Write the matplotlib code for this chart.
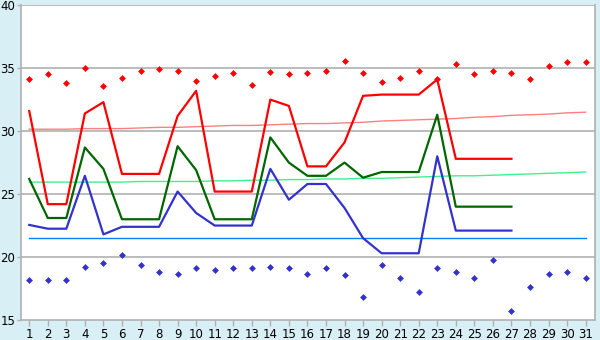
import matplotlib
matplotlib.use("Agg")
import matplotlib.pyplot as plt

days = list(range(1, 32))
line_days = list(range(1, 28))

max_points = [34.1, 34.5, 33.8, 35.0, 33.6, 34.2, 34.8, 34.9, 34.8, 34.0,
              34.4, 34.6, 33.7, 34.7, 34.5, 34.6, 34.8, 35.6, 34.6, 33.9,
              34.2, 34.8, 34.1, 35.3, 34.5, 34.8, 34.6, 34.1, 35.2, 35.5, 35.5]
min_points = [18.2, 18.15, 18.15, 19.2, 19.5, 20.2, 19.35, 18.8, 18.65, 19.1,
              18.95, 19.1, 19.1, 19.2, 19.1, 18.65, 19.1, 18.55, 16.8, 19.4,
              18.3, 17.2, 19.1, 18.8, 18.3, 19.75, 15.7, 17.6, 18.65, 18.8, 18.3]

red_line = [31.6, 24.2, 24.2, 31.4, 32.3, 26.6, 26.6, 26.6, 31.2, 33.2,
            25.2, 25.2, 25.2, 32.5, 32.0, 27.2, 27.2, 29.1, 32.8, 32.9,
            32.9, 32.9, 34.1, 27.8, 27.8, 27.8, 27.8]
green_line = [26.2, 23.1, 23.1, 28.7, 27.0, 23.0, 23.0, 23.0, 28.8, 26.9,
              23.0, 23.0, 23.0, 29.5, 27.5, 26.45, 26.45, 27.5, 26.3, 26.75,
              26.75, 26.75, 31.3, 24.0, 24.0, 24.0, 24.0]
blue_line = [22.55, 22.25, 22.25, 26.45, 21.8, 22.4, 22.4, 22.4, 25.2, 23.5,
             22.5, 22.5, 22.5, 27.0, 24.55, 25.8, 25.8, 23.9, 21.5, 20.3,
             20.3, 20.3, 28.0, 22.1, 22.1, 22.1, 22.1]

normal_max = [30.15, 30.15, 30.15, 30.2, 30.2, 30.2, 30.25, 30.3, 30.3, 30.35,
              30.4, 30.45, 30.45, 30.5, 30.55, 30.6, 30.6, 30.65, 30.7, 30.8,
              30.85, 30.9, 30.95, 31.0, 31.1, 31.15, 31.25, 31.3, 31.35, 31.45, 31.5]
normal_mean = [25.95, 25.95, 25.95, 25.95, 25.95, 25.95, 26.0, 26.0, 26.0, 26.0,
               26.05, 26.05, 26.1, 26.1, 26.15, 26.15, 26.2, 26.2, 26.25, 26.25,
               26.3, 26.35, 26.4, 26.45, 26.45, 26.5, 26.55, 26.6, 26.65, 26.7, 26.75]
normal_min = [21.5] * 31

y_ticks = [15, 20, 25, 30, 35, 40]

bg = "#d9eff6"
grid_col = "#b0b0b0"

fig = plt.figure(figsize=(6, 3.4), dpi=100, facecolor=bg)
ax = fig.add_axes([0.0345, 0.0588, 0.957, 0.926])
ax.set_facecolor("white")

for y in y_ticks[1:]:
    ax.axhline(y, color=grid_col, lw=1.2, zorder=1)

ax.plot(days, normal_max, color="#ff8080", lw=1, zorder=2)
ax.plot(days, normal_mean, color="#40f090", lw=1, zorder=2)
ax.plot(days, normal_min, color="#0080ff", lw=1, zorder=2)

ax.plot(line_days, red_line, color="#ff0000", lw=1.6, zorder=3)
ax.plot(line_days, green_line, color="#006600", lw=1.6, zorder=3)
ax.plot(line_days, blue_line, color="#3333cc", lw=1.6, zorder=3)

ax.plot(days, max_points, "D", color="#ff0000", ms=3.5, mew=0, zorder=4)
ax.plot(days, min_points, "D", color="#3333cc", ms=3.5, mew=0, zorder=4)

ax.set_xlim(0.54, 31.5)
ax.set_ylim(15, 40)
ax.set_xticks(days)
ax.set_xticklabels([str(d) for d in days])
ax.set_yticks(y_ticks)

for side in ["left", "bottom", "top", "right"]:
    ax.spines[side].set_color(grid_col)
    ax.spines[side].set_linewidth(1.2)
ax.spines["top"].set_visible(False)

ax.tick_params(axis="both", colors=grid_col, labelcolor="black", labelsize=8.5,
               width=1, length=4, pad=2)
ax.tick_params(axis="y", length=3, pad=1)

fig.savefig("out.png", dpi=100, facecolor=bg)
